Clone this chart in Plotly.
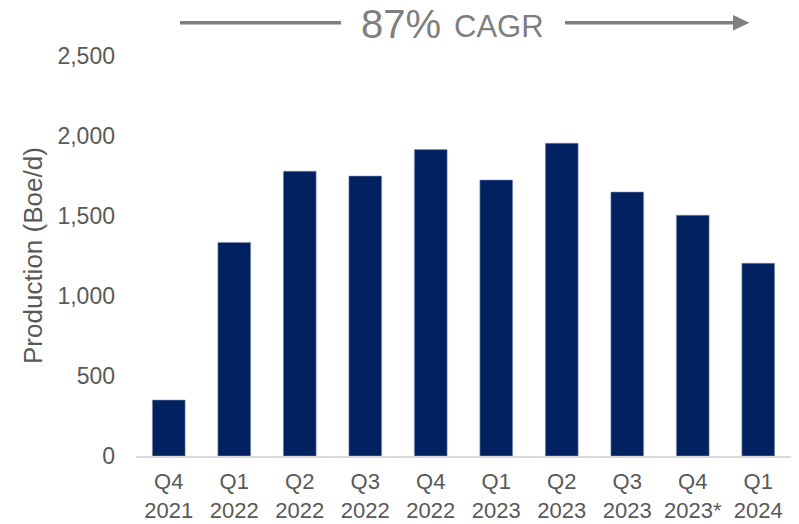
import plotly.graph_objects as go

quarters = ["Q4<br>2021", "Q1<br>2022", "Q2<br>2022", "Q3<br>2022", "Q4<br>2022",
            "Q1<br>2023", "Q2<br>2023", "Q3<br>2023", "Q4<br>2023*", "Q1<br>2024"]
production = [350, 1335, 1780, 1750, 1915, 1725, 1955, 1650, 1505, 1205]
y_ticks = [0, 500, 1000, 1500, 2000, 2500]
y_tick_labels = ["0", "500", "1,000", "1,500", "2,000", "2,500"]
cagr_value = "87%"
cagr_label = "CAGR"

W, H = 799, 524
L, R, T, B = 136, 8, 56, 68
pw, ph = W - L - R, H - T - B

def px(x):  # page pixel x -> paper
    return (x - L) / pw

def py(y):  # page pixel y -> paper
    return (H - B - y) / ph

FONT = "Liberation Sans, Arial, sans-serif"
GRAY = "#7f7f7f"
TXT = "#595959"

fig = go.Figure(go.Bar(
    x=quarters, y=production,
    marker=dict(color="#002060", line=dict(color="#8797b5", width=0.6)),
    width=0.5,
    hoverinfo="skip",
))

fig.update_layout(
    width=W, height=H,
    margin=dict(l=L, r=R, t=T, b=B),
    paper_bgcolor="white", plot_bgcolor="white",
    font=dict(family=FONT, size=22, color=TXT),
    showlegend=False,
    bargap=0.5,
    xaxis=dict(showline=True, linecolor="#d9d9d9", linewidth=1.5, showgrid=False,
               ticks="", tickfont=dict(size=22, color=TXT), automargin=False,
               ticklabelstandoff=5),
    yaxis=dict(range=[0, 2500], tickvals=y_ticks, ticktext=y_tick_labels,
               showgrid=False, zeroline=False, showline=False, ticks="",
               tickfont=dict(size=23, color=TXT), ticklabelstandoff=20,
               automargin=False),
)

annotations = [
    dict(text="Production (Boe/d)", textangle=-90, x=px(33), y=0.5,
         xref="paper", yref="paper", xanchor="center", yanchor="middle",
         showarrow=False, font=dict(size=26, color=TXT)),
    dict(text=cagr_value, x=px(359), y=py(24), xref="paper", yref="paper",
         xanchor="left", yanchor="middle", showarrow=False,
         font=dict(size=40, color=GRAY)),
    dict(text=cagr_label, x=px(452), y=py(27), xref="paper", yref="paper",
         xanchor="left", yanchor="middle", showarrow=False,
         font=dict(size=31, color=GRAY)),
]
fig.update_layout(annotations=annotations)

shapes = [
    dict(type="line", xref="paper", yref="paper", x0=px(180), x1=px(341),
         y0=py(22.7), y1=py(22.7), line=dict(color=GRAY, width=3.5)),
    dict(type="line", xref="paper", yref="paper", x0=px(565), x1=px(735),
         y0=py(22.7), y1=py(22.7), line=dict(color=GRAY, width=3.5)),
    dict(type="path", xref="paper", yref="paper",
         path=f"M {px(733)} {py(15)} L {px(749.5)} {py(22.7)} L {px(733)} {py(30.5)} Z",
         fillcolor=GRAY, line=dict(color=GRAY, width=0)),
]
fig.update_layout(shapes=shapes)

fig.write_html("out.html",
               config={"displayModeBar": False, "staticPlot": True},
               post_script="document.body.style.margin='0';document.body.style.padding='0';")
